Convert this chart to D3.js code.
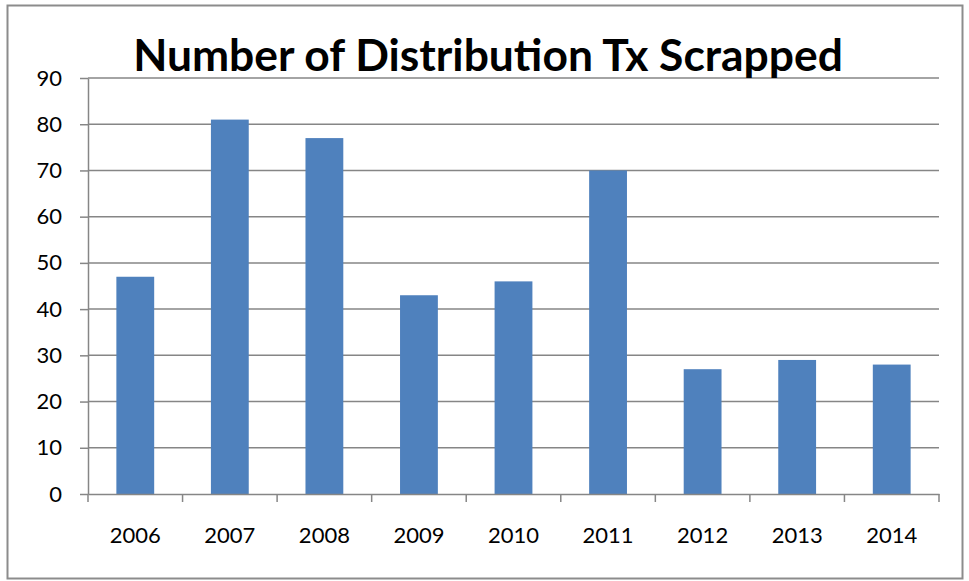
<!DOCTYPE html>
<html>
<head>
<meta charset="utf-8">
<script src="https://cdn.jsdelivr.net/npm/d3@7"></script>
<style>
    body { margin: 0; background: #fff; }
    text { font-family: "Lato", "Open Sans", sans-serif; fill: #000; }
</style>
</head>
<body>
<svg id="chart" width="969" height="581"></svg>
<script>
// Chart data
var years = ["2006", "2007", "2008", "2009", "2010", "2011", "2012", "2013", "2014"];
var scrapped = [47, 81, 77, 43, 46, 70, 27, 29, 28];
var yTicks = [0, 10, 20, 30, 40, 50, 60, 70, 80, 90];
var title = "Number of Distribution Tx Scrapped";

var svg = d3.select("#chart");

var plot = { left: 88, right: 939, top: 78, bottom: 494 };

// outer chart frame
svg.append("rect")
    .attr("x", 7.5).attr("y", 5.5)
    .attr("width", 955).attr("height", 573)
    .attr("fill", "#fff")
    .attr("stroke", "#8c8c8c")
    .attr("stroke-width", 2);

var x = d3.scaleBand()
    .domain(years)
    .range([plot.left, plot.right])
    .paddingInner(0.6)
    .paddingOuter(0.3);

var y = d3.scaleLinear()
    .domain([0, 90])
    .range([plot.bottom, plot.top]);

// horizontal gridlines
svg.append("g").attr("class", "grid")
    .selectAll("line")
    .data(yTicks.filter(function (d) { return d > 0; }))
    .join("line")
    .attr("x1", plot.left).attr("x2", plot.right)
    .attr("y1", function (d) { return y(d); })
    .attr("y2", function (d) { return y(d); })
    .attr("stroke", "#868686")
    .attr("stroke-width", 1.5);

// bars
svg.append("g").attr("class", "bars")
    .selectAll("rect")
    .data(scrapped)
    .join("rect")
    .attr("x", function (d, i) { return x(years[i]); })
    .attr("y", function (d) { return y(d); })
    .attr("width", x.bandwidth())
    .attr("height", function (d) { return plot.bottom - y(d); })
    .attr("fill", "#4f81bd");

// y axis
var yAxis = svg.append("g")
    .attr("transform", "translate(" + plot.left + ",0)")
    .call(d3.axisLeft(y).tickValues(yTicks).tickSize(8).tickPadding(18).tickSizeOuter(0));

// x axis, ticks between categories
var xAxis = svg.append("g")
    .attr("transform", "translate(0," + plot.bottom + ")")
    .call(d3.axisBottom(x).tickSize(0).tickPadding(33).tickSizeOuter(0));

var step = x.step();
xAxis.selectAll(".sep")
    .data(d3.range(years.length + 1))
    .join("line")
    .attr("class", "sep")
    .attr("x1", function (i) { return plot.left + i * step; })
    .attr("x2", function (i) { return plot.left + i * step; })
    .attr("y1", 0).attr("y2", 8)
    .attr("stroke", "#868686")
    .attr("stroke-width", 1.5);

[yAxis, xAxis].forEach(function (ax) {
    ax.selectAll(".domain").attr("stroke", "#868686").attr("stroke-width", 1.5);
    ax.selectAll(".tick line").attr("stroke", "#868686").attr("stroke-width", 1.5);
    ax.selectAll(".tick text")
        .attr("font-size", 22)
        .style("font-family", "Lato, 'Open Sans', sans-serif")
        .attr("fill", "#000");
});

// title, scaled to the width it has in the picture
var t = svg.append("text")
    .attr("x", (133 + 843) / 2)
    .attr("y", 71)
    .attr("text-anchor", "middle")
    .attr("font-weight", "bold")
    .attr("font-size", 40)
    .text(title);
var w = t.node().getComputedTextLength();
t.attr("font-size", 40 * 710 / w);
</script>
</body>
</html>
